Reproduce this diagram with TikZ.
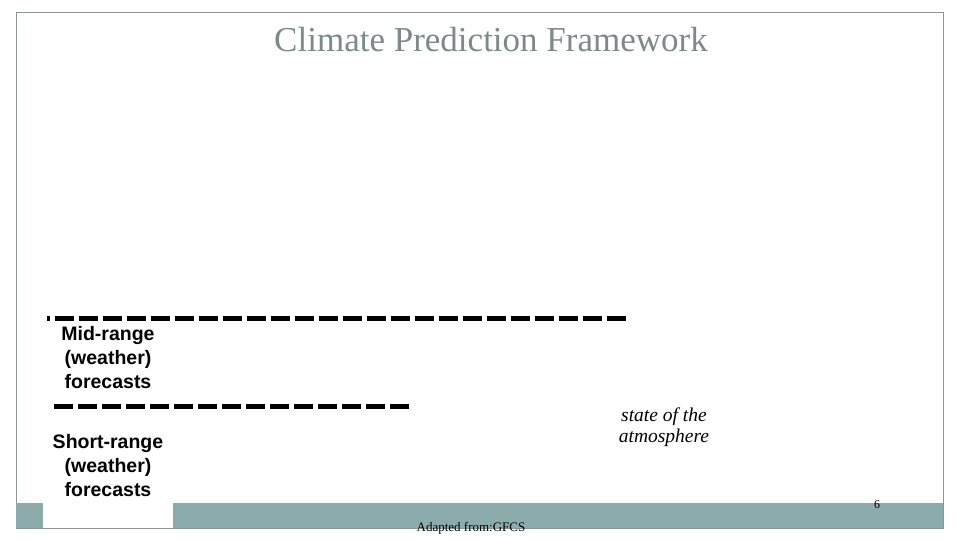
\documentclass[tikz,border=0pt]{standalone}
\usepackage{fontspec}
\setmainfont{Liberation Serif}
\setsansfont{Liberation Sans}
\usepackage{xcolor}
\usepackage{tikz}
\usetikzlibrary{positioning}
\definecolor{barteal}{RGB}{140,172,172}
\definecolor{framegrey}{RGB}{140,150,150}
\definecolor{titlegrey}{RGB}{125,138,138}
\tikzset{
rangetext/.style={align=center,inner sep=0pt,font=\sffamily\bfseries\fontsize{19.5}{24}\selectfont},
bigdash/.style={line width=5pt,dash pattern=on 19pt off 5pt}
}

\begin{document}
\begin{tikzpicture}[x=1pt,y=-1pt]
\useasboundingbox (0,0) rectangle (960,540);
\fill[white] (0,0) rectangle (960,540);

%frame
\draw[framegrey, line width=0.8pt] (16,12) rectangle (943,528);

%bottom bar
\fill[barteal] (16,503) rectangle (43,528);
\fill[barteal] (173,503) rectangle (943,528);

%title
\node[titlegrey,inner sep=0pt,font=\fontsize{35}{40}\selectfont] (title) at (491,40) {Climate Prediction Framework};

%----------mid-range
\draw[bigdash,dash phase=16pt] (47,318) -- (628,318);
\node[rangetext] (mid) at (108,358) {Mid-range\\(weather)\\forecasts};

%----------short-range
\draw[bigdash] (54,406) -- (410,406);
\node[rangetext] (short) at (108,466) {Short-range\\(weather)\\forecasts};

%state
\node[align=center,inner sep=0pt,font=\itshape\fontsize{19.5}{21}\selectfont] (state) at (664,427) {state of the\\atmosphere};

%footer
\node[inner sep=0pt,font=\fontsize{12}{14}\selectfont] (page) at (877,505) {6};
\node[inner sep=0pt,font=\fontsize{13}{14}\selectfont] (source) at (471,528) {Adapted from:GFCS};

\end{tikzpicture}
\end{document}
